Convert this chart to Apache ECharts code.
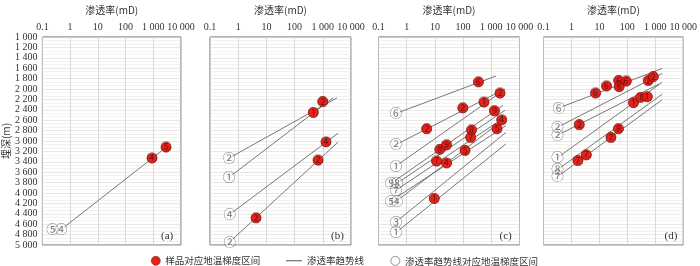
<!DOCTYPE html>
<html>
<head>
<meta charset="utf-8">
<script src="https://cdn.jsdelivr.net/npm/echarts@6/dist/echarts.min.js"></script>
<style>
html,body{margin:0;padding:0;background:#fff;}
#chart{width:700px;height:266px;}
</style>
</head>
<body>
<div id="chart"></div>
<script>
// ---- tick labels & names ----
const xTickLabels = ['0.1', '1', '10', '100', '1 000', '10 000'];
const yTickLabels = ['1 000','1 200','1 400','1 600','1 800','2 000','2 200','2 400','2 600','2 800',
  '3 000','3 200','3 400','3 600','3 800','4 000','4 200','4 400','4 600','4 800','5 000'];
const panelNames = ['(a)', '(b)', '(c)', '(d)'];
const xTitle = '渗透率(mD)';
const yTitle = '埋深(m)';
const legendNames = ['样品对应地温梯度区间', '渗透率趋势线', '渗透率趋势线对应地温梯度区间'];

// ---- panel (a) ----
const aCircles = [[0.23, 4700, '⑤'], [0.48, 4700, '④']];
const aLines = [[0.48, 4700, 3500, 3090]];
const aSamples = [[2900, 3120, '⑤'], [900, 3330, '④']];

// ---- panel (b) ----
const bCircles = [[0.47, 3330, '②'], [0.47, 3700, '①'], [0.5, 4410, '④'], [0.5, 4940, '②']];
const bLines = [[0.47, 3330, 3200, 2170], [0.47, 3700, 2300, 2170], [0.5, 4410, 3500, 2850], [0.5, 4940, 3500, 3020]];
const bSamples = [[1000, 2240, '②'], [460, 2450, '①'], [1300, 3020, '④'], [680, 3370, '②'], [4.3, 4480, '②']];

// ---- panel (c) ----
const cCircles = [[0.42, 2470, '⑥'], [0.42, 3070, '②'], [0.42, 3480, '①'], [0.28, 3815, '⑨'], [0.45, 3815, '⑧'],
  [0.42, 3945, '⑦'], [0.28, 4150, '⑤'], [0.45, 4150, '④'], [0.42, 4555, '③'], [0.42, 4760, '①']];
const cLines = [[0.42, 2470, 1470, 1750], [0.42, 3070, 3060, 2000], [0.42, 3480, 2040, 2075], [0.28, 3815, 2600, 2315],
  [0.45, 3815, 3060, 2410], [0.42, 3945, 3060, 2540], [0.28, 4150, 3300, 2705], [0.45, 4150, 3300, 2555],
  [0.42, 4555, 3300, 2835], [0.42, 4760, 3300, 3055]];
const cSamples = [[350, 1865, '⑥'], [2040, 2080, '②'], [550, 2255, '①'], [98, 2365, '②'], [5.1, 2765, '②'],
  [1290, 2420, '⑨'], [2350, 2595, '④'], [200, 2790, '⑧'], [1600, 2765, '⑤'], [185, 2930, '⑦'],
  [15, 3160, '⑧'], [26, 3075, '⑨'], [117, 3180, '⑤'], [11.5, 3390, '⑦'], [26, 3425, '④'], [9.5, 4105, '①']];

// ---- panel (d) ----
const dCircles = [[0.35, 2365, '⑥'], [0.32, 2735, '②'], [0.32, 2890, '②'], [0.32, 3320, '①'], [0.32, 3550, '⑧'], [0.32, 3685, '⑦']];
const dLines = [[0.35, 2365, 1770, 1605], [0.32, 2735, 1770, 1700], [0.32, 2890, 1350, 1905], [0.32, 3320, 1770, 1870],
  [0.32, 3550, 1770, 2100], [0.32, 3685, 1770, 2205]];
const dSamples = [[7.3, 2080, '⑥'], [18, 1945, '⑥'], [49, 1835, '⑥'], [92, 1850, '⑥'], [51, 1955, '⑥'],
  [560, 1835, '②'], [850, 1760, '②'], [1.9, 2685, '②'], [166, 2265, '①'], [300, 2160, '①'], [520, 2150, '①'],
  [48, 2765, '⑧'], [26, 2930, '⑦'], [3.4, 3270, '⑦'], [1.7, 3375, '⑦']];

const panels = [
  {circles: aCircles, lines: aLines, samples: aSamples},
  {circles: bCircles, lines: bLines, samples: bSamples},
  {circles: cCircles, lines: cLines, samples: cSamples},
  {circles: dCircles, lines: dLines, samples: dSamples}
];

// ---- layout / style ----
const gridLefts = [40, 210, 378.5, 543.5];
const gridW = 141, gridTop = 29, gridH = 216;
const serif = 'Liberation Serif';
const cjk = 'Noto Sans CJK SC';
const redColor = '#e2231a';
const lineColor = '#555';

const grids = [], xAxes = [], yAxes = [], series = [], titles = [];
panels.forEach((p, i) => {
  grids.push({left: gridLefts[i], top: gridTop, width: gridW, height: gridH, show: true,
    borderColor: '#666', borderWidth: 1, backgroundColor: '#fff'});
  xAxes.push({
    type: 'log', logBase: 10, min: 0.1, max: 10000, gridIndex: i, position: 'top',
    name: xTitle, nameLocation: 'middle', nameGap: 22,
    nameTextStyle: {fontFamily: cjk, fontSize: 10, color: '#333'},
    axisLine: {show: false}, axisTick: {show: false},
    axisLabel: {fontFamily: serif, fontSize: 10, color: '#333', margin: 5,
      formatter: v => xTickLabels[Math.round(Math.log10(v)) + 1]},
    splitLine: {show: true, lineStyle: {color: '#d0d0d0', width: 0.8}}
  });
  yAxes.push({
    type: 'value', inverse: true, min: 1000, max: 5000, interval: 200, gridIndex: i,
    name: i === 0 ? yTitle : '', nameLocation: 'middle', nameRotate: 90, nameGap: 31,
    nameTextStyle: {fontFamily: cjk, fontSize: 10, color: '#333'},
    axisLine: {show: false}, axisTick: {show: false},
    axisLabel: {show: i === 0, fontFamily: serif, fontSize: 10, color: '#333', margin: 5,
      formatter: v => yTickLabels[Math.round((v - 1000) / 200)]},
    splitLine: {show: true, lineStyle: {color: '#ddd6d6', width: 0.6}},
    minorTick: {show: false, splitNumber: 3},
    minorSplitLine: {show: true, lineStyle: {color: '#e8e3e3', width: 0.5}}
  });
  p.lines.forEach(l => {
    series.push({type: 'line', name: legendNames[1], xAxisIndex: i, yAxisIndex: i,
      data: [[l[0], l[1]], [l[2], l[3]]], symbol: 'none', silent: true, z: 2,
      lineStyle: {color: lineColor, width: 0.8}});
  });
  series.push({type: 'scatter', name: legendNames[2], xAxisIndex: i, yAxisIndex: i,
    data: p.circles, symbol: 'circle', symbolSize: 9, z: 3,
    itemStyle: {color: '#fff', borderWidth: 0},
    label: {show: true, position: 'inside', formatter: d => d.data[2],
      fontFamily: cjk, fontSize: 12.5, color: '#555'}});
  series.push({type: 'scatter', name: legendNames[0], xAxisIndex: i, yAxisIndex: i,
    data: p.samples, symbol: 'circle', symbolSize: 10, z: 4,
    itemStyle: {color: redColor, borderColor: '#8a1a14', borderWidth: 0.6, opacity: 1},
    label: {show: true, position: 'inside', formatter: d => d.data[2],
      fontFamily: cjk, fontSize: 11, color: '#6a1010'}});
  titles.push({text: panelNames[i], left: gridLefts[i] + 121, top: 231, padding: 0,
    textStyle: {fontFamily: serif, fontSize: 11, fontWeight: 'normal', color: '#333'}});
});

const legendText = {fontFamily: cjk, fontSize: 9.5, color: '#333'};
const legends = [
  {data: [{name: legendNames[0], icon: 'circle', itemStyle: {color: redColor, borderColor: '#8a1a14', borderWidth: 0.6}}],
    left: 151, top: 256, itemWidth: 9, itemHeight: 9, padding: 0, textStyle: legendText, selectedMode: false},
  {data: [{name: legendNames[1], icon: 'path://M0,0L16,0L16,1L0,1Z', itemStyle: {color: lineColor}}],
    left: 286, top: 256, itemWidth: 16, itemHeight: 9, padding: 0, textStyle: legendText, selectedMode: false},
  {data: [{name: legendNames[2], icon: 'circle', itemStyle: {color: '#fff', borderColor: '#555', borderWidth: 0.8}}],
    left: 390.5, top: 256, itemWidth: 9, itemHeight: 9, padding: 0, textStyle: legendText, selectedMode: false}
];

const chart = echarts.init(document.getElementById('chart'), null, {renderer: 'canvas'});
chart.setOption({
  animation: false,
  backgroundColor: '#fff',
  title: titles,
  legend: legends,
  grid: grids,
  xAxis: xAxes,
  yAxis: yAxes,
  series: series
});
</script>
</body>
</html>
